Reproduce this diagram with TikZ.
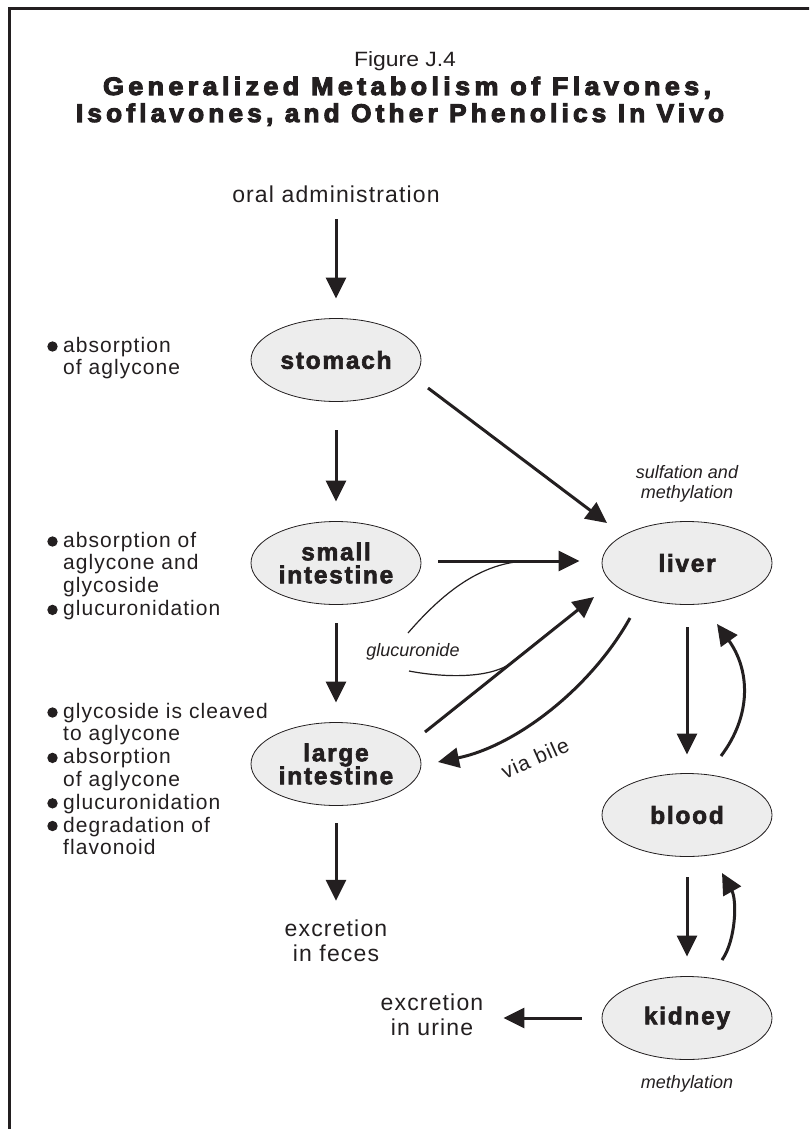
\documentclass[tikz,border=0pt]{standalone}
\usepackage{fontspec}
\usepackage{graphicx}
\setmainfont{Liberation Sans}
\newfontfamily\bodyfont{Liberation Sans}[LetterSpace=5]
\newfontfamily\nodefont{Liberation Sans Bold}[LetterSpace=7,FakeBold=2.5]
\newfontfamily\labfont{Liberation Sans Italic}
\newfontfamily\titlefont{Liberation Sans Bold}[LetterSpace=16,FakeBold=4]
\newfontfamily\figfont{Liberation Sans}
\usetikzlibrary{arrows.meta,shapes.geometric,calc}
\definecolor{ink}{HTML}{231F20}
\definecolor{organfill}{HTML}{EDEDED}
\tikzset{
  organ/.style={ellipse, draw=ink, line width=0.8pt, fill=organfill,
    minimum width=170pt, minimum height=83pt, inner sep=0pt, text=ink,
    align=center, font=\nodefont\fontsize{24.5}{23}\selectfont},
  flow/.style={draw=ink, line width=3pt, -{Triangle[length=21pt,width=20pt]}},
  thinline/.style={draw=ink, line width=1.2pt},
  body/.style={inner sep=0pt, text=ink, align=left, font=\bodyfont\fontsize{21}{22.8}\selectfont},
  big/.style={inner sep=0pt, text=ink, align=center, font=\bodyfont\fontsize{23}{25}\selectfont},
  note/.style={inner sep=0pt, text=ink, align=center, font=\labfont\fontsize{18}{20}\selectfont},
  bulletdot/.style={fill=ink}
}
\begin{document}
\begin{tikzpicture}[x=1pt,y=-1pt]
\useasboundingbox (0,0) rectangle (809,1129);
\clip (0,0) rectangle (809,1129);
% frame
\draw[ink, line width=3pt] (9,1140) -- (9,9) -- (820,9);

% title
\node[anchor=base, inner sep=0pt, text=ink] (fig) at (405,67) {\resizebox{102pt}{15pt}{\figfont Figure J.4}};
\node[anchor=base, inner sep=0pt, text=ink] (title1) at (407,95) {\resizebox{608pt}{18.3pt}{\titlefont Generalized Metabolism of Flavones,}};
\node[anchor=base, inner sep=0pt, text=ink] (title2) at (400,122) {\resizebox{648pt}{18.5pt}{\titlefont Isoflavones, and Other Phenolics In Vivo}};

% organs
\node[organ] (stomach) at (336,360) {stomach};
\node[organ] (small) at (336,563) {small\\intestine};
\node[organ] (large) at (336,764) {large\\intestine};
\node[organ] (liver) at (687,563) {liver};
\node[organ] (blood) at (687,815) {blood};
\node[organ] (kidney) at (687,1018) {kidney};

% texts
\node[big, anchor=base] (oral) at (336,202) {oral administration};
\node[big] (feces) at (336,941) {excretion\\in feces};
\node[big] (urine) at (432,1015) {excretion\\in urine};
\node[note] (sulf) at (687,484) {sulfation and\\methylation};
\node[note] (gluc) at (413,652) {glucuronide};
\node[note] (meth) at (687,1084) {methylation};
\node[body, rotate=24] (bile) at (535,758) {via bile};

% bullet lists
\node[body, anchor=north west] (list1) at (63,336.7) {absorption\\of aglycone};
\node[body, anchor=north west] (list2) at (63,531.7) {absorption of\\aglycone and\\glycoside\\glucuronidation};
\node[body, anchor=north west] (list3) at (63,702.7) {glycoside is cleaved\\to aglycone\\absorption\\of aglycone\\glucuronidation\\degradation of\\flavonoid};
\fill[bulletdot] (52.5,346.5) circle (5.2pt);
\fill[bulletdot] (52.5,541.5) circle (5.2pt);
\fill[bulletdot] (52.5,609.9) circle (5.2pt);
\fill[bulletdot] (52.5,712.5) circle (5.2pt);
\fill[bulletdot] (52.5,757.9) circle (5.2pt);
\fill[bulletdot] (52.5,803.3) circle (5.2pt);
\fill[bulletdot] (52.5,826.0) circle (5.2pt);

% straight arrows
\draw[flow] ([yshift=-17pt]oral.south) -- ([yshift=19.5pt]stomach.north);
\draw[flow] ([yshift=-28.5pt]stomach.south) -- ([yshift=19.5pt]small.north);
\draw[flow] ([yshift=-18.5pt]small.south) -- ([yshift=19.5pt]large.north);
\draw[flow] ([yshift=-17.5pt]large.south) -- ([yshift=19pt]feces.north);
\draw[flow] ([yshift=-22.5pt]liver.south) -- ([yshift=18.5pt]blood.north);
\draw[flow] ([yshift=-20.5pt]blood.south) -- ([yshift=19.5pt]kidney.north);
\draw[flow] ([xshift=-20pt]kidney.west) -- ([xshift=20pt]urine.east |- kidney.west);
\draw[flow] ([xshift=17pt,yshift=2pt]small.east) -- ([xshift=-22pt,yshift=2pt]liver.west);
\draw[flow] ($(stomach.center)+(92,28)$) -- ($(liver.center)+(-80,-40)$);
\draw[flow] ($(large.center)+(89,-32)$) -- ($(liver.center)+(-93,34)$);

% curved arrows
\draw[flow] ($(liver.center)+(-57,55)$) .. controls (591,688) and (516,746) .. ($(large.center)+(102,-2)$);
\draw[flow] ($(blood.center)+(34,-59)$) .. controls (752,715) and (750,670) .. ($(liver.center)+(30,61)$);
\draw[flow] ($(kidney.center)+(35,-58)$) .. controls (736,940) and (737,900) .. ($(blood.center)+(35,58)$);

% glucuronide curves
\draw[thinline] ($(small.center)+(72,70)$) .. controls (440,596) and (480,561) .. (530,561);
\draw[thinline] ($(small.center)+(73,108)$) .. controls (440,677) and (490,680) .. (513,661.7);
\end{tikzpicture}
\end{document}
